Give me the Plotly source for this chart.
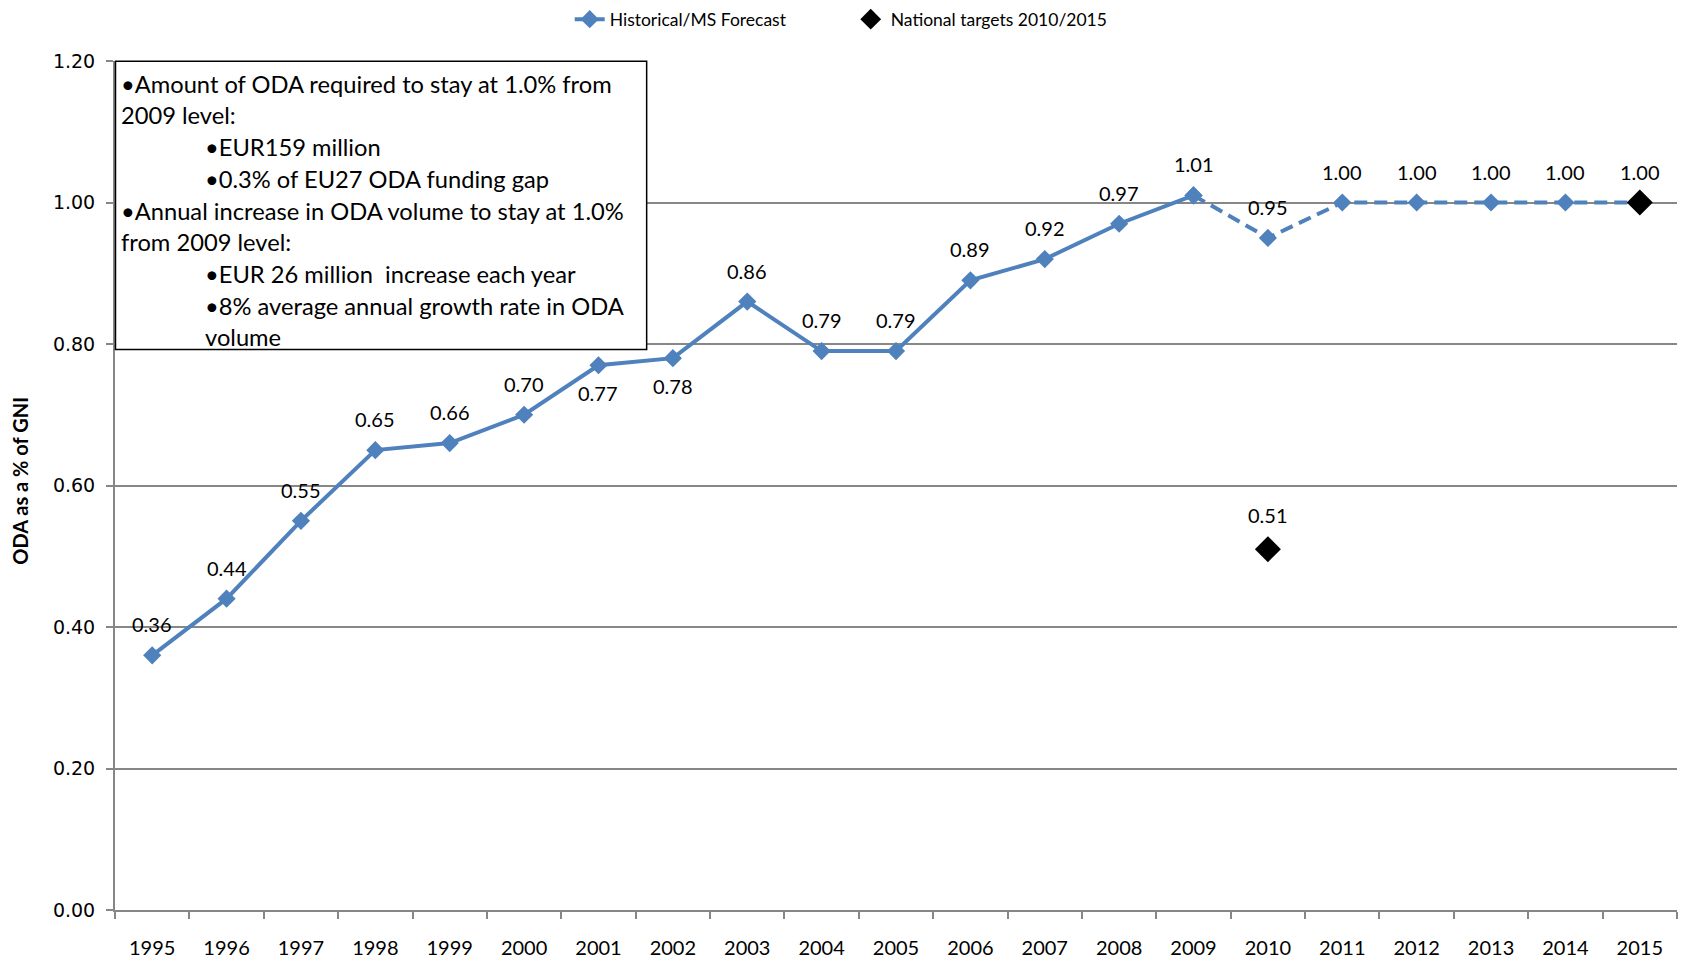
import plotly.graph_objects as go

# ---------------- data ----------------
years = [str(y) for y in range(1995, 2016)]
hist_years = [str(y) for y in range(1995, 2010)]
hist_values = [0.36, 0.44, 0.55, 0.65, 0.66, 0.70, 0.77, 0.78, 0.86, 0.79, 0.79, 0.89, 0.92, 0.97, 1.01]
hist_label_below = ["2001", "2002"]
fc_years = [str(y) for y in range(2009, 2016)]
fc_values = [1.01, 0.95, 1.00, 1.00, 1.00, 1.00, 1.00]
target_years = ["2010", "2015"]
target_values = [0.51, 1.00]
y_ticks = [0.0, 0.2, 0.4, 0.6, 0.8, 1.0, 1.2]
box_lines = [
    ("•Amount of ODA required to stay at 1.0% from", 0),
    ("2009 level:", 0),
    ("•EUR159 million", 1),
    ("•0.3% of EU27 ODA funding gap", 1),
    ("•Annual increase in ODA volume to stay at 1.0%", 0),
    ("from 2009 level:", 0),
    ("•EUR 26 million  increase each year", 1),
    ("•8% average annual growth rate in ODA", 1),
    ("volume", 1),
]

BLUE = "#4F81BD"
GRID = "#878787"
FONT = "Lato"

# page geometry (figure sits 8px in from page corner)
OFF = 8
W, H = 1686 - 2 * OFF, 969 - 2 * OFF
L, R, T, B = 114.5, 1677.5, 60.7, 910.0   # plot area in page pixels
def px(xp):
    return (xp - L) / (R - L)
def py(yp):
    return (B - yp) / (B - T)
def idx(yr):
    return years.index(yr)

fig = go.Figure()

fig.add_trace(go.Scatter(
    x=hist_years, y=hist_values, mode="lines+markers",
    name="Historical/MS Forecast",
    line=dict(color=BLUE, width=4),
    marker=dict(symbol="diamond", size=14, color=BLUE),
))
fig.add_trace(go.Scatter(
    x=fc_years, y=fc_values, mode="lines+markers",
    showlegend=False,
    line=dict(color=BLUE, width=4, dash="13px,7px"),
    marker=dict(symbol="diamond", size=14, color=BLUE),
))
fig.add_trace(go.Scatter(
    x=target_years, y=target_values, mode="markers",
    name="National targets 2010/2015",
    marker=dict(symbol="diamond", size=20, color="black"),
))

annotations = []
label_font = dict(family=FONT, size=20, color="black")
for yr, v in zip(hist_years, hist_values):
    below = yr in hist_label_below
    annotations.append(dict(x=idx(yr), y=v, xref="x", yref="y", text=f"{v:.2f}",
                            showarrow=False, font=label_font,
                            yshift=-28 if below else 31))
for yr, v in zip(fc_years[1:-1], fc_values[1:-1]):
    annotations.append(dict(x=idx(yr), y=v, xref="x", yref="y", text=f"{v:.2f}",
                            showarrow=False, font=label_font, yshift=31))
for yr, v in zip(target_years, target_values):
    annotations.append(dict(x=idx(yr), y=v, xref="x", yref="y", text=f"{v:.2f}",
                            showarrow=False, font=label_font, yshift=34 if v < 0.9 else 31))

# text box lines
line_y0, line_dy = 83.5, 31.7
for i, (txt, lvl) in enumerate(box_lines):
    annotations.append(dict(x=px(118.5 if lvl == 0 else 202.5), y=py(line_y0 + i * line_dy),
                            xref="paper", yref="paper", xanchor="left", yanchor="middle",
                            text=txt, showarrow=False,
                            font=dict(family=FONT, size=23.7, color="black")))

# y axis title
annotations.append(dict(x=px(20), y=py(481), xref="paper", yref="paper",
                        xanchor="center", yanchor="middle",
                        text="<b>ODA as a % of GNI</b>", textangle=-90, showarrow=False,
                        font=dict(family=FONT, size=20, color="black")))

fig.update_layout(
    width=W, height=H,
    margin=dict(l=L - OFF, r=(W + OFF) - R, t=T - OFF, b=(H + OFF) - B, autoexpand=False),
    plot_bgcolor="white", paper_bgcolor="white",
    annotations=annotations,
    shapes=[dict(type="rect", xref="paper", yref="paper",
                 x0=px(115), x1=px(646.5), y0=py(349.3), y1=py(61),
                 fillcolor="white", line=dict(color="black", width=1.5), layer="above")],
    legend=dict(orientation="h", x=px(569.5), xanchor="left", y=py(19), yanchor="middle",
                font=dict(family=FONT, size=17.5, color="black"),
                entrywidth=236, entrywidthmode="pixels", bgcolor="rgba(0,0,0,0)"),
    xaxis=dict(type="category", categoryorder="array", categoryarray=years,
               range=[-0.5, len(years) - 0.5], tickson="boundaries",
               ticks="outside", ticklen=7, tickcolor=GRID, tickwidth=2,
               showline=True, linecolor=GRID, linewidth=2, showgrid=False,
               tickfont=dict(family=FONT, size=20, color="black"), ticklabelstandoff=19),
    yaxis=dict(range=[0, 1.2], tickvals=y_ticks, ticktext=[f"{t:.2f}" for t in y_ticks],
               ticks="outside", ticklen=7, tickcolor=GRID, tickwidth=2,
               showline=True, linecolor=GRID, linewidth=2,
               showgrid=True, gridcolor=GRID, gridwidth=1.5, zeroline=False,
               tickfont=dict(family="DejaVu Sans", size=19, color="black"), ticklabelstandoff=7),
)

fig.write_html("out.html")
